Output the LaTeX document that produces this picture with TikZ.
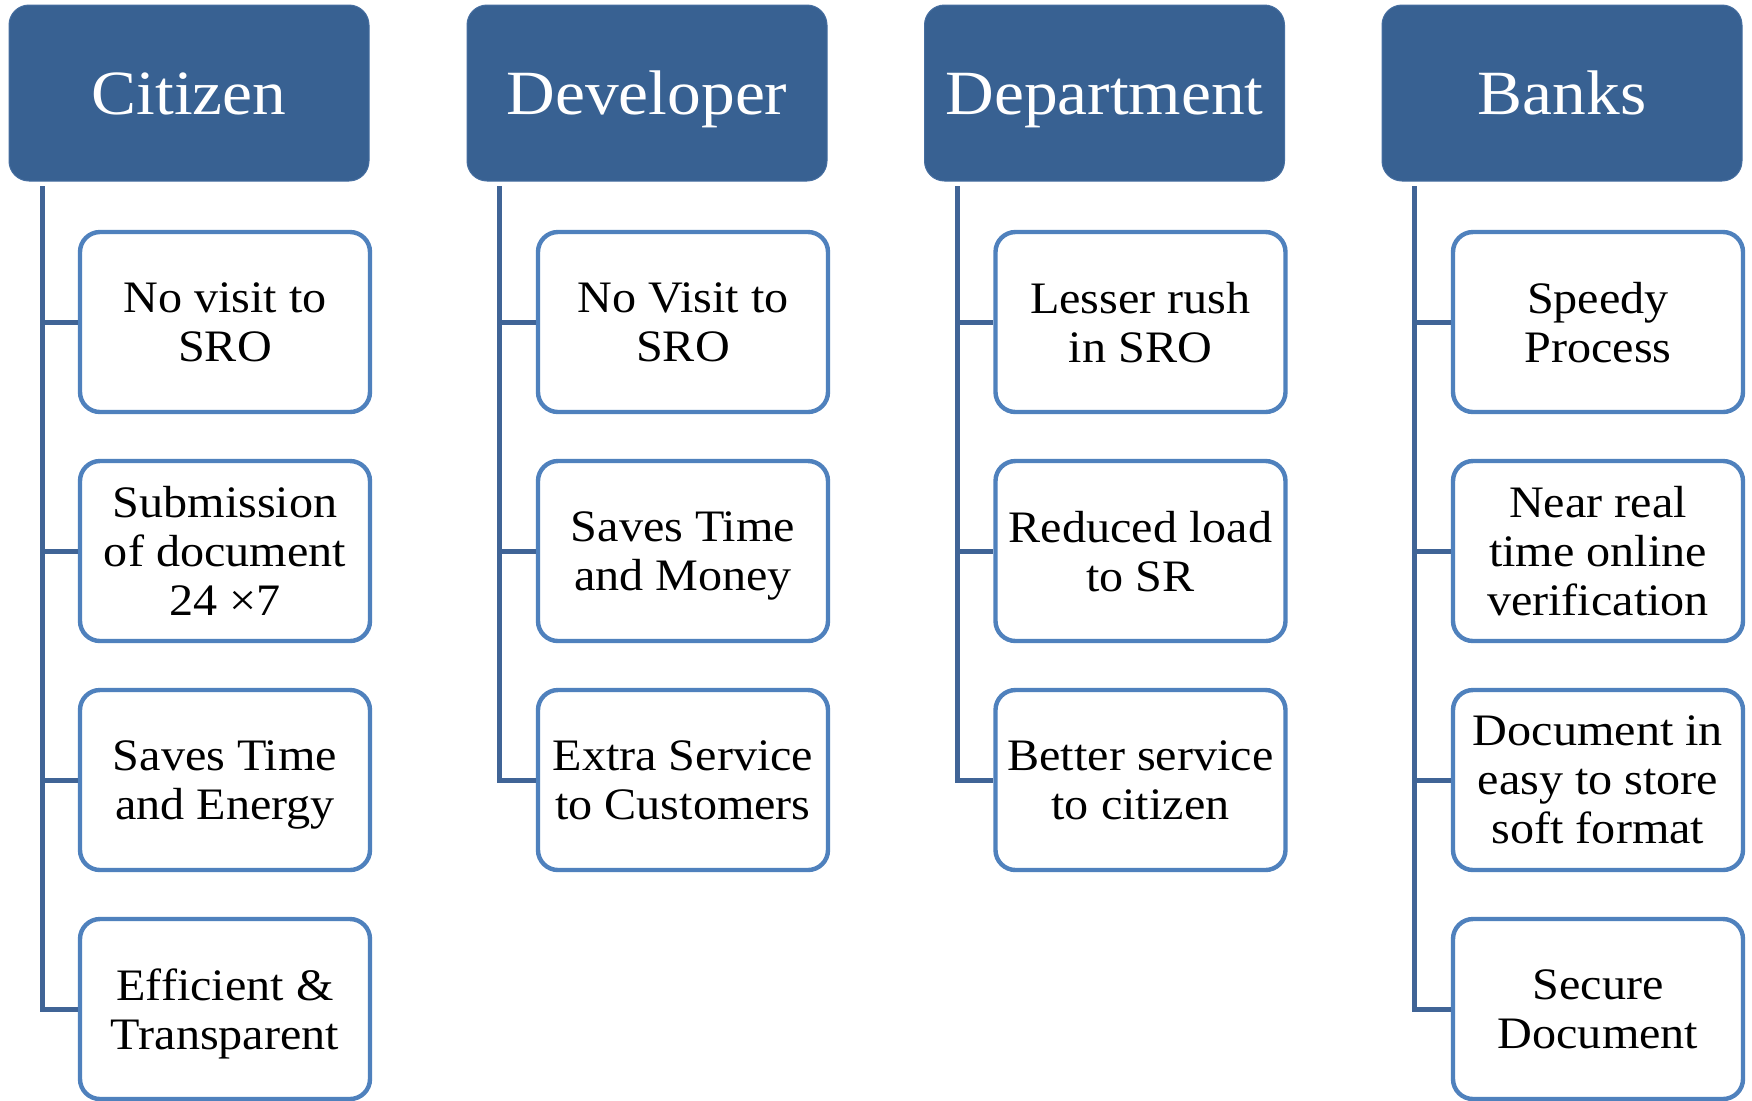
\documentclass[tikz,border=0pt]{standalone}
\usepackage{fontspec}
\setmainfont{Liberation Serif}[FakeStretch=1.07]
\usetikzlibrary{calc}
\definecolor{hdrfill}{RGB}{56,97,146}
\definecolor{hdredge}{RGB}{70,110,160}
\definecolor{boxedge}{RGB}{79,129,189}
\definecolor{connclr}{RGB}{64,100,150}
\tikzset{
  hdr/.style={draw=hdredge, line width=0.5pt, fill=hdrfill, rounded corners=10pt,
    minimum width=180pt, minimum height=88pt, inner sep=0pt, text=white,
    text height=21pt, text depth=0pt,
    font=\fontsize{31.5}{36}\selectfont},
  itembox/.style={draw=boxedge, line width=2.2pt, fill=white, rounded corners=10pt,
    minimum width=145pt, minimum height=90pt, inner sep=0pt, align=center,
    text depth=0pt,
    font=\fontsize{22.5}{24.5}\selectfont},
  conn/.style={draw=connclr, line width=2.5pt}
}
\begin{document}
\begin{tikzpicture}[x=0.5pt,y=-0.5pt]
\clip (0,0) rectangle (1752,1100);
\fill[white] (0,0) rectangle (1752,1100);
% headers
\node[hdr] (h1) at (189,93) {Citizen};
\node[hdr] (h2) at (647,93) {Developer};
\node[hdr] (h3) at (1104.5,93) {Department};
\node[hdr] (h4) at (1562,93) {Banks};
% spine start points
\coordinate (t1) at (42,186);
\coordinate (t2) at (499.6,186);
\coordinate (t3) at (957.2,186);
\coordinate (t4) at (1414.8,186);
% boxes
\node[itembox] (a1) at (225,322) {No visit to\\SRO};
\node[itembox] (a2) at (225,551) {Submission\\of document\\24 ×7};
\node[itembox] (a3) at (225,780) {Saves Time\\and Energy};
\node[itembox] (a4) at (225,1009) {Efficient \&\\Transparent};
\node[itembox] (b1) at (683,322) {No Visit to\\SRO};
\node[itembox] (b2) at (683,551) {Saves Time\\and Money};
\node[itembox] (b3) at (683,780) {Extra Service\\to Customers};
\node[itembox] (c1) at (1140.5,322) {Lesser rush\\in SRO};
\node[itembox] (c2) at (1140.5,551) {Reduced load\\to SR};
\node[itembox] (c3) at (1140.5,780) {Better service\\to citizen};
\node[itembox] (d1) at (1598,322) {Speedy\\Process};
\node[itembox] (d2) at (1598,551) {Near real\\time online\\verification};
\node[itembox] (d3) at (1598,780) {Document in\\easy to store\\soft format};
\node[itembox] (d4) at (1598,1009) {Secure\\Document};
% connectors
\draw[conn] (t1) |- (a4.west);
\draw[conn] (t1 |- a1.west) -- (a1.west);
\draw[conn] (t1 |- a2.west) -- (a2.west);
\draw[conn] (t1 |- a3.west) -- (a3.west);
\draw[conn] (t2) |- (b3.west);
\draw[conn] (t2 |- b1.west) -- (b1.west);
\draw[conn] (t2 |- b2.west) -- (b2.west);
\draw[conn] (t3) |- (c3.west);
\draw[conn] (t3 |- c1.west) -- (c1.west);
\draw[conn] (t3 |- c2.west) -- (c2.west);
\draw[conn] (t4) |- (d4.west);
\draw[conn] (t4 |- d1.west) -- (d1.west);
\draw[conn] (t4 |- d2.west) -- (d2.west);
\draw[conn] (t4 |- d3.west) -- (d3.west);
\end{tikzpicture}
\end{document}
